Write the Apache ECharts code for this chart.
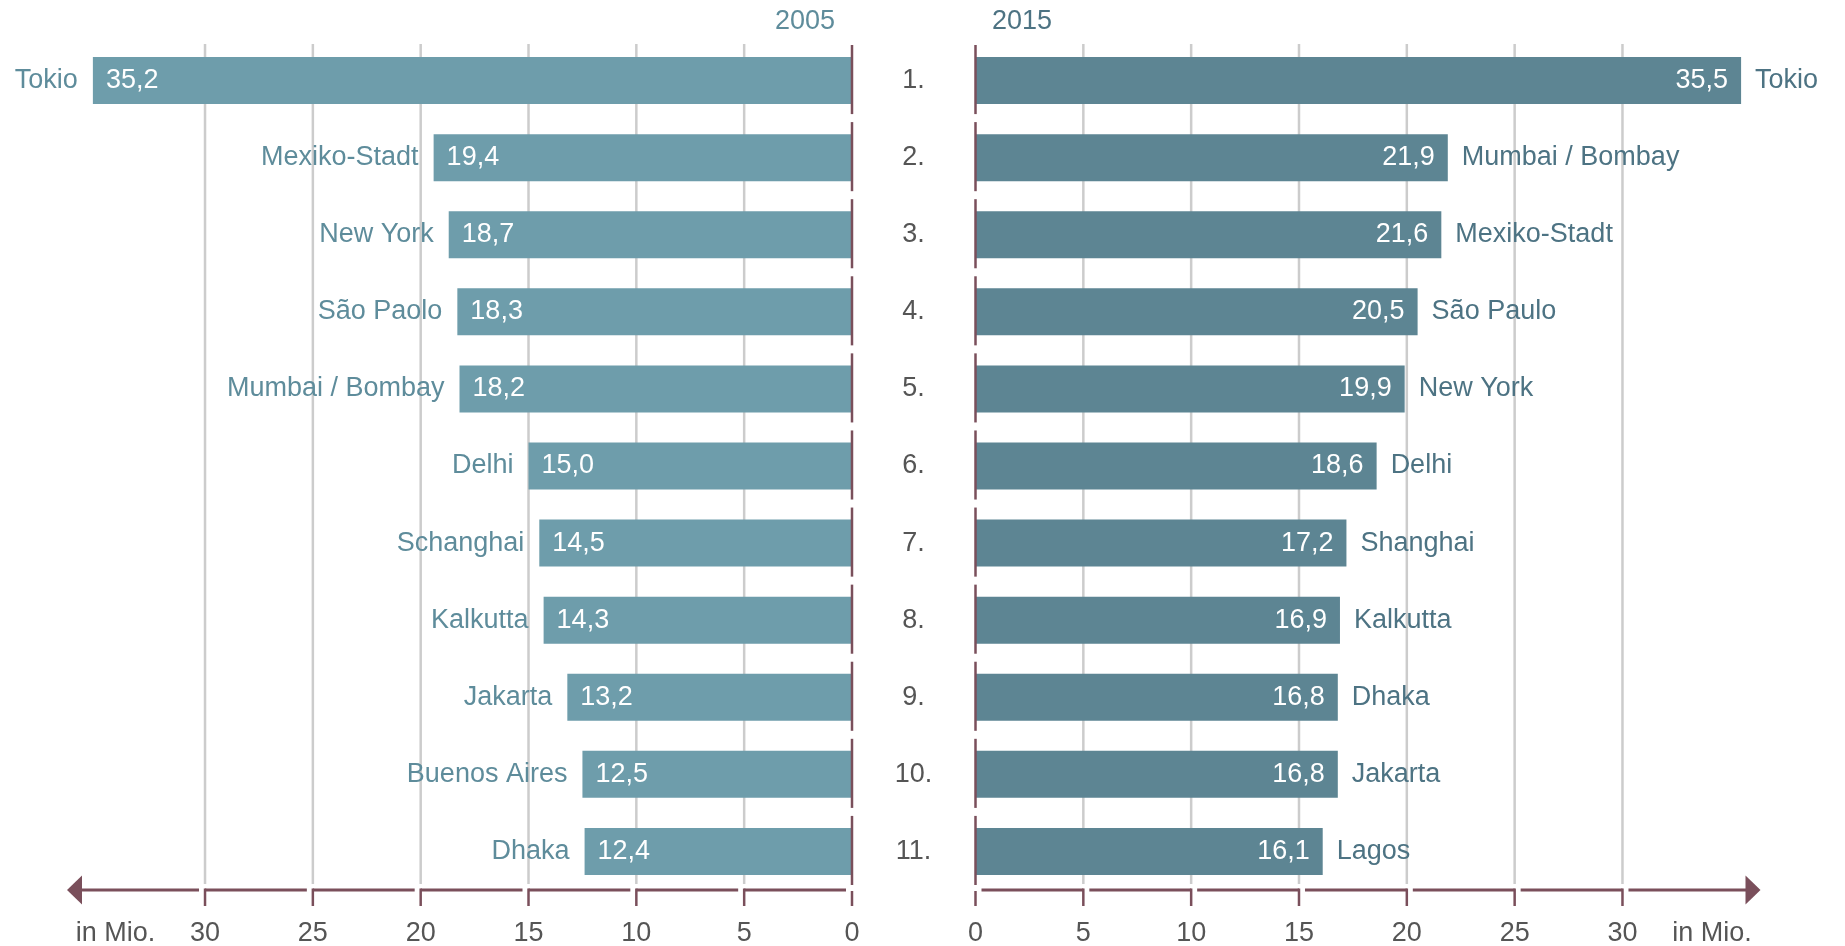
<!DOCTYPE html>
<html lang="de" style="height: 100%">
  <head>
    <meta charset="utf-8" />
  </head>
  <body style="height: 100%; margin: 0; background: #fff">
    <div id="container" style="width: 1845px; height: 946px"></div>
    <script src="https://cdn.jsdelivr.net/npm/echarts@6/dist/echarts.min.js"></script>
    <script type="text/javascript">
      // Die größten Städte der Welt, Einwohner in Mio.
      var ranks = ["1.", "2.", "3.", "4.", "5.", "6.", "7.", "8.", "9.", "10.", "11."];
      var cities2005 = ["Tokio", "Mexiko-Stadt", "New York", "São Paolo", "Mumbai / Bombay", "Delhi", "Schanghai", "Kalkutta", "Jakarta", "Buenos Aires", "Dhaka"];
      var values2005 = [35.2, 19.4, 18.7, 18.3, 18.2, 15.0, 14.5, 14.3, 13.2, 12.5, 12.4];
      var cities2015 = ["Tokio", "Mumbai / Bombay", "Mexiko-Stadt", "São Paulo", "New York", "Delhi", "Shanghai", "Kalkutta", "Dhaka", "Jakarta", "Lagos"];
      var values2015 = [35.5, 21.9, 21.6, 20.5, 19.9, 18.6, 17.2, 16.9, 16.8, 16.8, 16.1];
      var tickValues = [0, 5, 10, 15, 20, 25, 30];
      var unitLabel = "in Mio.";

      var FONT = "Liberation Sans";
      var FS = 27;
      var AXIS_MAX = 36.4;
      var UNIT_AT = 34.15;
      var BAR_LEFT = "#6e9dab";
      var BAR_RIGHT = "#5d8593";
      var TXT_LEFT = "#5e8c9b";
      var TXT_RIGHT = "#4d7383";
      var MAROON = "#7a4f5b";
      var GRID_GRAY = "#cccccc";
      var DARK = "#555555";
      var NUDGE = [6, 0, 0, 0]; // text sits a touch lower in the original

      function fmt(v) {
        return v.toFixed(1).replace(".", ",");
      }

      var dom = document.getElementById("container");
      var myChart = echarts.init(dom, null, { renderer: "canvas" });

      // vertical grid lines (5 .. 30)
      function renderGridLine(params, api) {
        var v = api.value(0);
        if (v === 0) return null;
        var cs = params.coordSys;
        var x = api.coord([v, 0])[0];
        return {
          type: "line",
          shape: { x1: x, y1: cs.y + 2, x2: x, y2: cs.y + cs.height - 6 },
          style: { stroke: GRID_GRAY, lineWidth: 2.5 },
        };
      }

      // segmented zero line, one piece per row
      function renderZeroLine(params, api) {
        var c = api.coord([0, api.value(1)]);
        var band = api.size([0, 1])[1];
        return {
          type: "line",
          shape: { x1: c[0], y1: c[1] - band / 2 + 3, x2: c[0], y2: c[1] + band / 2 - 5 },
          style: { stroke: MAROON, lineWidth: 2.5 },
        };
      }

      // bottom axis: bracket pieces, ticks, labels and arrow
      function makeAxisRenderer() {
        return function (params, api) {
          var cs = params.coordSys;
          var y = cs.y + cs.height;
          var i = params.dataIndex;
          var v = api.value(0);
          var x = api.coord([v, 0])[0];
          var dir = api.coord([AXIS_MAX, 0])[0] > api.coord([0, 0])[0] ? 1 : -1;
          var gap = 6;
          var font = FS + "px '" + FONT + "'";
          var children = [];
          children.push({
            type: "line",
            shape: { x1: x, y1: v === 0 ? y + 1 : y - 1.5, x2: x, y2: y + 16 },
            style: { stroke: MAROON, lineWidth: 2.5 },
          });
          if (i > 0) {
            var xp = api.coord([tickValues[i - 1], 0])[0];
            children.push({
              type: "line",
              shape: { x1: xp + dir * gap, y1: y, x2: x, y2: y },
              style: { stroke: MAROON, lineWidth: 3 },
            });
          }
          if (i === tickValues.length - 1) {
            var xe = api.coord([AXIS_MAX, 0])[0];
            children.push({
              type: "line",
              shape: { x1: x + dir * gap, y1: y, x2: xe - dir * 10, y2: y },
              style: { stroke: MAROON, lineWidth: 3 },
            });
            children.push({
              type: "polygon",
              shape: { points: [[xe, y], [xe - dir * 15, y - 14.5], [xe - dir * 15, y + 14.5]] },
              style: { fill: MAROON },
            });
            var xu = api.coord([UNIT_AT, 0])[0];
            children.push({
              type: "text",
              x: xu,
              y: y + 44,
              style: { text: unitLabel, fill: DARK, font: font, align: "center", verticalAlign: "middle" },
            });
          }
          children.push({
            type: "text",
            x: x,
            y: y + 44,
            style: { text: String(v), fill: DARK, font: font, align: "center", verticalAlign: "middle" },
          });
          return { type: "group", children: children };
        };
      }

      function tickData() {
        return tickValues.map(function (v) {
          return [v, 0];
        });
      }
      function rowData() {
        return ranks.map(function (r, i) {
          return [0, i];
        });
      }

      var option = {
        animation: false,
        textStyle: { fontFamily: FONT },
        title: [
          {
            text: "2005",
            right: 1005,
            top: 3,
            textStyle: { color: TXT_LEFT, fontSize: FS, fontWeight: "normal", fontFamily: FONT },
          },
          {
            text: "2015",
            left: 987,
            top: 3,
            textStyle: { color: TXT_RIGHT, fontSize: FS, fontWeight: "normal", fontFamily: FONT },
          },
        ],
        grid: [
          { left: 67, width: 785, top: 42, bottom: 56 },
          { left: 975.5, width: 785, top: 42, bottom: 56 },
        ],
        xAxis: [
          { gridIndex: 0, type: "value", min: 0, max: AXIS_MAX, inverse: true, show: false },
          { gridIndex: 1, type: "value", min: 0, max: AXIS_MAX, show: false },
        ],
        yAxis: [
          { gridIndex: 0, type: "category", data: ranks, inverse: true, show: false },
          {
            gridIndex: 1,
            type: "category",
            data: ranks,
            inverse: true,
            position: "left",
            axisLine: { show: false },
            axisTick: { show: false },
            axisLabel: { color: DARK, fontSize: FS, fontFamily: FONT, align: "center", margin: 62, padding: NUDGE },
          },
        ],
        series: [
          {
            type: "custom",
            xAxisIndex: 0,
            yAxisIndex: 0,
            data: tickData(),
            renderItem: renderGridLine,
            z: 1,
            silent: true,
          },
          {
            type: "custom",
            xAxisIndex: 1,
            yAxisIndex: 1,
            data: tickData(),
            renderItem: renderGridLine,
            z: 1,
            silent: true,
          },
          {
            name: "2005",
            type: "bar",
            xAxisIndex: 0,
            yAxisIndex: 0,
            data: values2005,
            barWidth: 47,
            z: 2,
            itemStyle: { color: BAR_LEFT },
            label: {
              show: true,
              position: "insideLeft",
              distance: 13,
              padding: NUDGE,
              color: "#fff",
              fontSize: FS,
              fontFamily: FONT,
              formatter: function (p) {
                return fmt(p.value);
              },
            },
          },
          {
            name: "2005 Städte",
            type: "bar",
            xAxisIndex: 0,
            yAxisIndex: 0,
            data: values2005,
            barWidth: 47,
            barGap: "-100%",
            z: 2,
            itemStyle: { color: "rgba(0,0,0,0)" },
            label: {
              show: true,
              position: "left",
              distance: 15,
              padding: NUDGE,
              color: TXT_LEFT,
              fontSize: FS,
              fontFamily: FONT,
              formatter: function (p) {
                return cities2005[p.dataIndex];
              },
            },
          },
          {
            name: "2015",
            type: "bar",
            xAxisIndex: 1,
            yAxisIndex: 1,
            data: values2015,
            barWidth: 47,
            z: 2,
            itemStyle: { color: BAR_RIGHT },
            label: {
              show: true,
              position: "insideRight",
              distance: 13,
              padding: NUDGE,
              color: "#fff",
              fontSize: FS,
              fontFamily: FONT,
              formatter: function (p) {
                return fmt(p.value);
              },
            },
          },
          {
            name: "2015 Städte",
            type: "bar",
            xAxisIndex: 1,
            yAxisIndex: 1,
            data: values2015,
            barWidth: 47,
            barGap: "-100%",
            z: 2,
            itemStyle: { color: "rgba(0,0,0,0)" },
            label: {
              show: true,
              position: "right",
              distance: 14,
              padding: NUDGE,
              color: TXT_RIGHT,
              fontSize: FS,
              fontFamily: FONT,
              formatter: function (p) {
                return cities2015[p.dataIndex];
              },
            },
          },
          {
            type: "custom",
            xAxisIndex: 0,
            yAxisIndex: 0,
            data: rowData(),
            renderItem: renderZeroLine,
            z: 3,
            silent: true,
          },
          {
            type: "custom",
            xAxisIndex: 1,
            yAxisIndex: 1,
            data: rowData(),
            renderItem: renderZeroLine,
            z: 3,
            silent: true,
          },
          {
            type: "custom",
            xAxisIndex: 0,
            yAxisIndex: 0,
            data: tickData(),
            renderItem: makeAxisRenderer(),
            z: 3,
            silent: true,
            clip: false,
          },
          {
            type: "custom",
            xAxisIndex: 1,
            yAxisIndex: 1,
            data: tickData(),
            renderItem: makeAxisRenderer(),
            z: 3,
            silent: true,
            clip: false,
          },
        ],
      };

      myChart.setOption(option);
      window.addEventListener("resize", myChart.resize);
    </script>
  </body>
</html>
